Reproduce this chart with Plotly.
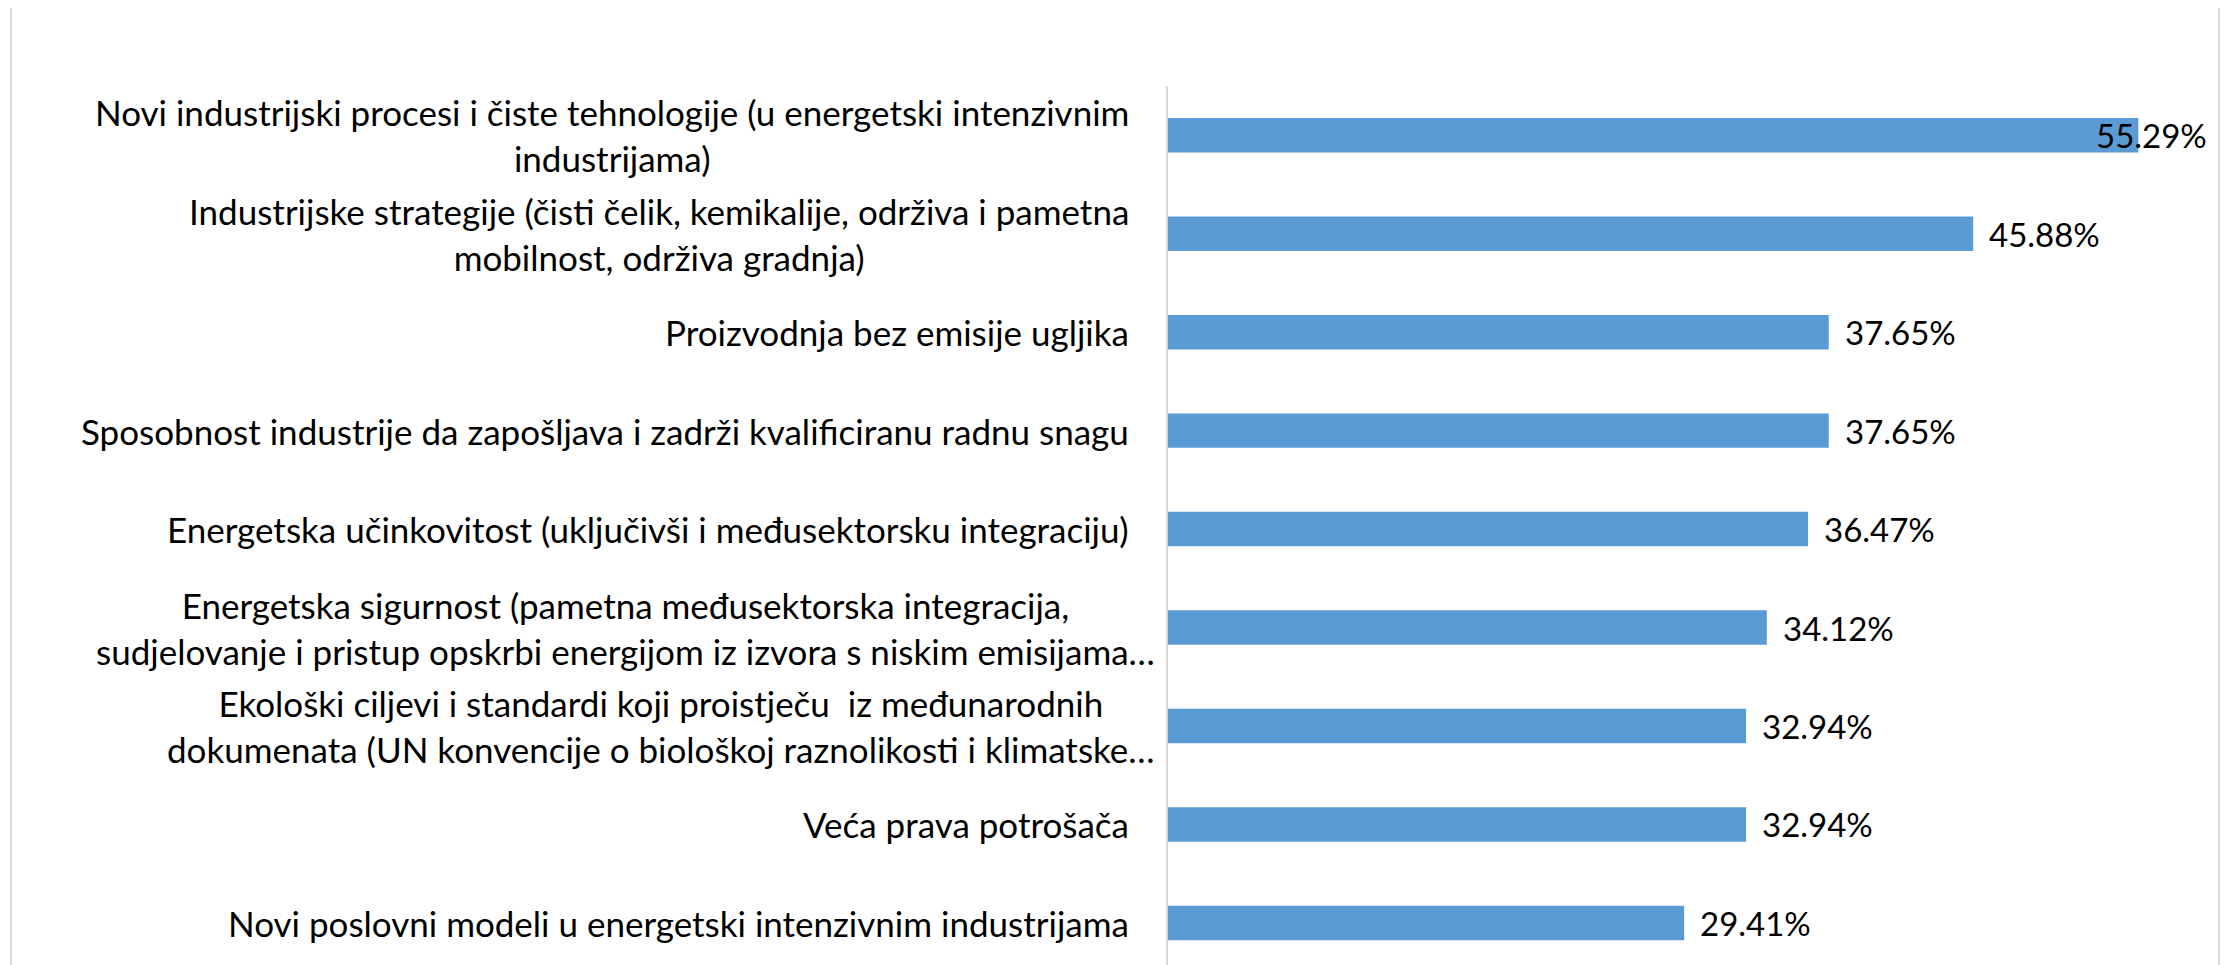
import plotly.graph_objects as go

categories = [
    "Novi industrijski procesi i čiste tehnologije (u energetski intenzivnim<br>industrijama)",
    "Industrijske strategije (čisti čelik, kemikalije, održiva i pametna<br>mobilnost, održiva gradnja)",
    "Proizvodnja bez emisije ugljika",
    "Sposobnost industrije da zapošljava i zadrži kvalificiranu radnu snagu",
    "Energetska učinkovitost (uključivši i međusektorsku integraciju)",
    "Energetska sigurnost (pametna međusektorska integracija,<br>sudjelovanje i pristup opskrbi energijom iz izvora s niskim emisijama…",
    "Ekološki ciljevi i standardi koji proistječu  iz međunarodnih<br>dokumenata (UN konvencije o biološkoj raznolikosti i klimatske…",
    "Veća prava potrošača",
    "Novi poslovni modeli u energetski intenzivnim industrijama",
]
values = [55.29, 45.88, 37.65, 37.65, 36.47, 34.12, 32.94, 32.94, 29.41]

# styling only
label_shift = [-37, -37, -37, -37, -37, -11, -11, -37, -37]
FONT = "Lato, 'Open Sans', sans-serif"
FS = 35
VFS = 33
XMAX = 60
BAR = "#5b9bd5"

ids = list(range(len(categories)))

fig = go.Figure()
fig.add_trace(go.Bar(
    x=values, y=ids, orientation="h",
    marker=dict(color=BAR, line=dict(width=0)),
    hoverinfo="skip",
))

annotations = []
for i, (c, v) in enumerate(zip(categories, values)):
    annotations.append(dict(
        x=0, xref="paper", y=i, yref="y", text=c, showarrow=False,
        xanchor="right", yanchor="middle", align="center", xshift=label_shift[i],
        font=dict(family=FONT, size=FS, color="#000000"),
    ))
    txt = f"{v:.2f}%"
    if v + 7.2 > XMAX:
        annotations.append(dict(
            x=XMAX, xref="x", y=i, yref="y", text=txt, showarrow=False,
            xanchor="right", yanchor="middle", xshift=-12,
            font=dict(family=FONT, size=VFS, color="#000000"),
        ))
    else:
        annotations.append(dict(
            x=v, xref="x", y=i, yref="y", text=txt, showarrow=False,
            xanchor="left", yanchor="middle", xshift=14,
            font=dict(family=FONT, size=VFS, color="#000000"),
        ))

fig.update_layout(
    width=2223, height=957,
    margin=dict(l=1160, r=10, t=78, b=0, pad=0),
    paper_bgcolor="white", plot_bgcolor="white",
    showlegend=False,
    bargap=0.65,
    annotations=annotations,
    xaxis=dict(range=[0, XMAX], visible=False, fixedrange=True),
    yaxis=dict(range=[8.427, -0.5], showticklabels=False, ticks="",
               showgrid=False, zeroline=False,
               showline=True, linecolor="#d9d9d9", linewidth=2),
    shapes=[dict(type="rect", xref="paper", yref="paper",
                 x0=(11 - 1168) / 1053, x1=(2219 - 1168) / 1053,
                 y0=-0.05, y1=(965 - 7) / 879,
                 line=dict(color="#d9d9d9", width=2), layer="below")],
)

fig.write_html("out.html", config={"displayModeBar": False})
